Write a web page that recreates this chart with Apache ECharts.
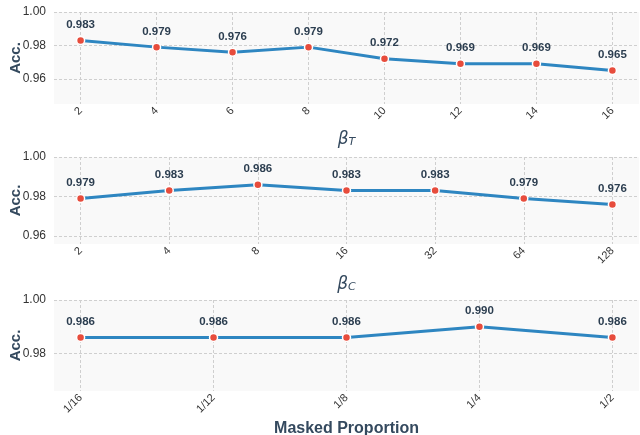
<!DOCTYPE html>
<html><head><meta charset="utf-8">
<script src="https://cdn.jsdelivr.net/npm/echarts@6/dist/echarts.min.js"></script>
<style>html,body{margin:0;padding:0;background:#fff}#c{width:640px;height:435px}</style>
</head><body><div id="c"></div>
<script>
const betaT = ['2','4','6','8','10','12','14','16'];
const accT = [0.983,0.979,0.976,0.979,0.972,0.969,0.969,0.965];
const betaC = ['2','4','8','16','32','64','128'];
const accC = [0.979,0.983,0.986,0.983,0.983,0.979,0.976];
const maskP = ['1/16','1/12','1/8','1/4','1/2'];
const accM = [0.986,0.986,0.986,0.990,0.986];
const yTicksT = [0.96,0.98,1.00];
const yTicksC = [0.96,0.98,1.00];
const yTicksM = [0.98,1.00];

const panels = [
  {cats: betaT, acc: accT, yt: yTicksT, top: 12, height: 92, name: '{b|β}{s|T}', gap: 24, rich: true},
  {cats: betaC, acc: accC, yt: yTicksC, top: 157, height: 87, name: '{b|β}{s|C}', gap: 29, rich: true},
  {cats: maskP, acc: accM, yt: yTicksM, top: 300, height: 91, name: 'Masked Proportion', gap: 30, rich: false}
];

const dark = '#2c3e50';
const grid = [], xAxis = [], yAxis = [], series = [];
panels.forEach((p, k) => {
  const n = p.cats.length;
  const m = 0.05 * (n - 1);
  const idx = p.cats.map((_, i) => i);
  grid.push({left: 54, right: 1, top: p.top, height: p.height, show: true,
    backgroundColor: '#f9f9f9', borderWidth: 0, containLabel: false, outerBoundsMode: 'none'});
  xAxis.push({
    type: 'value', gridIndex: k, min: -m, max: n - 1 + m,
    axisLine: {show: false},
    axisTick: {show: false, customValues: idx},
    axisLabel: {customValues: idx, rotate: 45, margin: 5, fontSize: 11, color: '#333',
      fontFamily: 'Liberation Sans', formatter: v => p.cats[Math.round(v)]},
    splitLine: {show: true, lineStyle: {color: '#cfcfcf', type: [3, 2], width: 1}},
    name: p.name, nameLocation: 'middle', nameGap: p.gap,
    nameTextStyle: p.rich ? {
      rich: {
        b: {fontFamily: 'DejaVu Sans', fontStyle: 'italic', fontSize: 17, color: '#34495e', verticalAlign: 'bottom', lineHeight: 20},
        s: {fontFamily: 'DejaVu Sans', fontStyle: 'italic', fontSize: 11, color: '#34495e', verticalAlign: 'bottom', lineHeight: 13}
      }
    } : {fontFamily: 'Liberation Sans', fontWeight: 'bold', fontSize: 16, color: '#34495e'}
  });
  yAxis.push({
    type: 'value', gridIndex: k, min: Math.min(...p.acc) - 0.02, max: 1.0,
    axisLine: {show: false},
    axisTick: {show: false, customValues: p.yt},
    axisLabel: {customValues: p.yt, fontSize: 12, color: '#333', margin: 8,
      fontFamily: 'Liberation Sans', formatter: v => v.toFixed(2)},
    splitLine: {show: true, lineStyle: {color: '#cfcfcf', type: [3, 2], width: 1}},
    name: 'Acc.', nameLocation: 'middle', nameRotate: 90, nameGap: 31, nameMoveOverlap: false,
    nameTextStyle: {fontFamily: 'Liberation Sans', fontWeight: 'bold', fontSize: 15, color: '#34495e'}
  });
  series.push({
    type: 'line', xAxisIndex: k, yAxisIndex: k,
    data: p.acc.map((v, i) => [i, v]),
    symbol: 'circle', symbolSize: 8,
    itemStyle: {color: '#e74c3c', borderColor: '#fff', borderWidth: 1.5},
    lineStyle: {color: '#2e86c1', width: 3},
    label: {show: true, position: 'top', distance: 5, fontFamily: 'Liberation Sans',
      fontWeight: 'bold', fontSize: 11.5, color: dark, formatter: q => q.value[1].toFixed(3)},
    clip: false, animation: false
  });
});

const chart = echarts.init(document.getElementById('c'), null, {renderer: 'canvas'});
chart.setOption({animation: false, grid, xAxis, yAxis, series});
</script></body></html>
